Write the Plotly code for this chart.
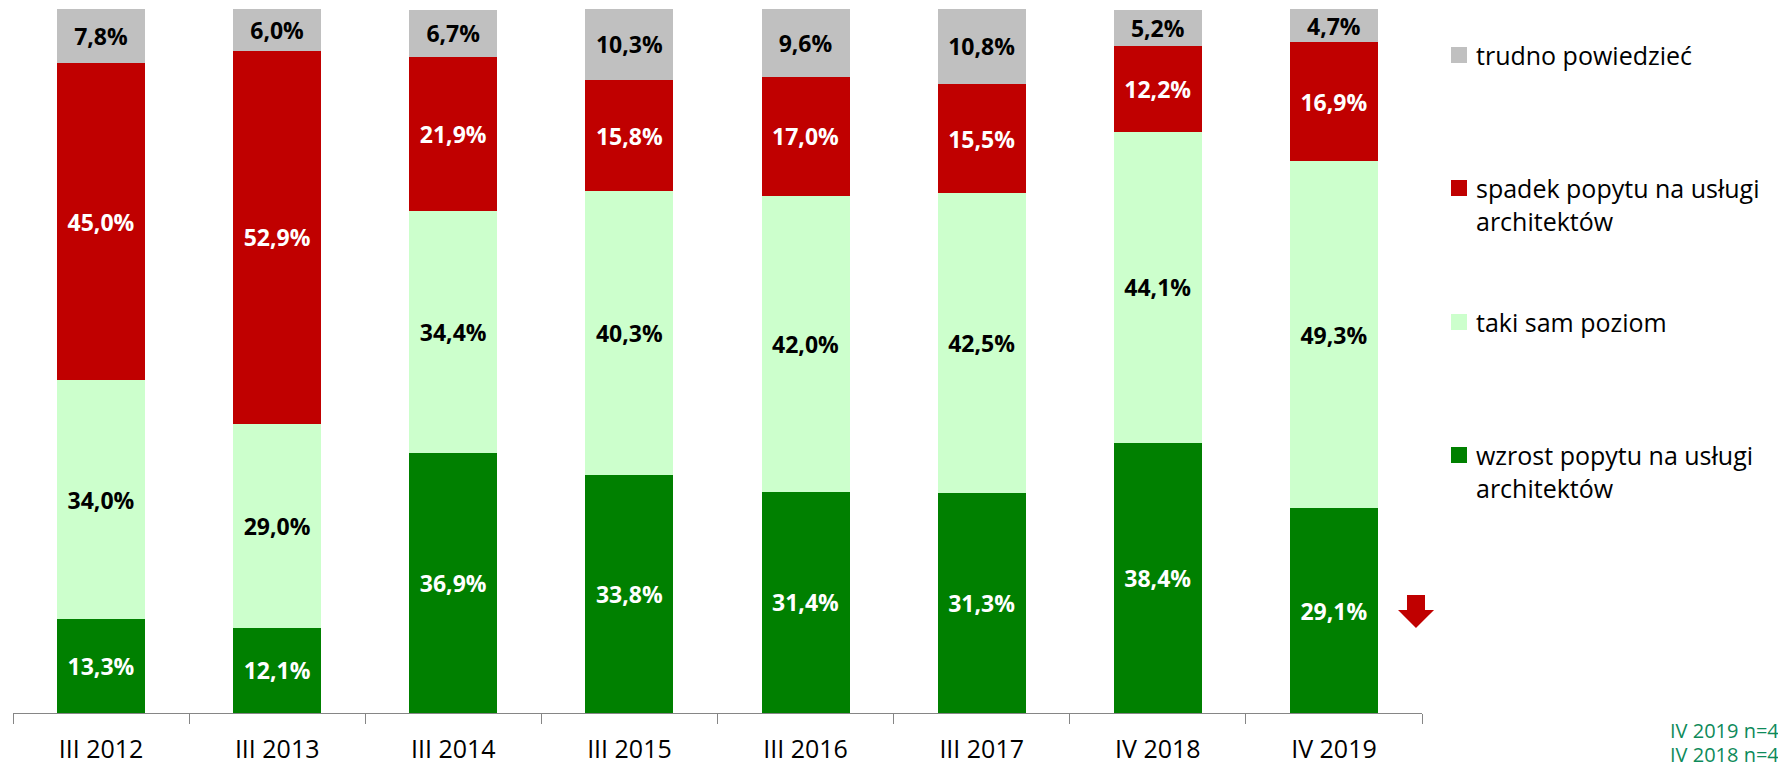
import plotly.graph_objects as go

categories = ["III 2012", "III 2013", "III 2014", "III 2015", "III 2016", "III 2017", "IV 2018", "IV 2019"]
wzrost = [13.3, 12.1, 36.9, 33.8, 31.4, 31.3, 38.4, 29.1]
taki = [34.0, 29.0, 34.4, 40.3, 42.0, 42.5, 44.1, 49.3]
spadek = [45.0, 52.9, 21.9, 15.8, 17.0, 15.5, 12.2, 16.9]
trudno = [7.8, 6.0, 6.7, 10.3, 9.6, 10.8, 5.2, 4.7]

series_names = [
    ["wzrost popytu na usługi", "architektów"],
    ["taki sam poziom"],
    ["spadek popytu na usługi", "architektów"],
    ["trudno powiedzieć"],
]
series_values = [wzrost, taki, spadek, trudno]
series_colors = ["#008000", "#CCFFCC", "#C00000", "#C0C0C0"]
label_colors = ["white", "black", "white", "black"]
sample_notes = ["IV 2019 n=4", "IV 2018 n=4"]

W, H = 1778, 765
L, R, T, B = 13, 356, 9, 52
PW, PH = W - L - R, H - T - B


def px_x(px):
    return (px - L) / PW


def px_y(py):
    return (H - B - py) / PH


FONT = "Open Sans"

fig = go.Figure()
for name, vals, col, lcol in zip(series_names, series_values, series_colors, label_colors):
    fig.add_trace(go.Bar(
        x=categories,
        y=vals,
        name=" ".join(name),
        marker=dict(color=col, line=dict(width=0)),
        text=[f"{v:.1f}%".replace(".", ",") for v in vals],
        textposition="inside",
        insidetextanchor="middle",
        textangle=0,
        textfont=dict(family=FONT, size=23, color=lcol, weight="bold"),
        showlegend=False,
    ))

# legend drawn manually (top to bottom: trudno, spadek, taki, wzrost)
legend_order = [3, 2, 1, 0]
legend_first_line_y = [55, 188, 322, 455]
line_gap = 33
shapes = []
annotations = []
for idx, ly in zip(legend_order, legend_first_line_y):
    shapes.append(dict(
        type="rect", xref="paper", yref="paper",
        x0=px_x(1451), x1=px_x(1467), y0=px_y(ly + 8), y1=px_y(ly - 8),
        fillcolor=series_colors[idx], line=dict(width=0),
    ))
    for k, line in enumerate(series_names[idx]):
        annotations.append(dict(
            xref="paper", yref="paper", x=px_x(1474), y=px_y(ly + k * line_gap),
            xanchor="left", yanchor="middle", showarrow=False, text=line,
            font=dict(family=FONT, size=25, color="black"),
        ))

# down arrow next to last bar
ax = [1407, 1425, 1425, 1434, 1416, 1398, 1407, 1407]
ay = [595, 595, 610, 610, 628, 610, 610, 595]
path = "M " + " L ".join(f"{px_x(a):.5f},{px_y(b):.5f}" for a, b in zip(ax, ay)) + " Z"
shapes.append(dict(type="path", xref="paper", yref="paper", path=path,
                   fillcolor="#C00000", line=dict(width=0)))

for k, note in enumerate(sample_notes):
    annotations.append(dict(
        xref="paper", yref="paper", x=px_x(1668), y=px_y(730 + k * 24),
        xanchor="left", yanchor="middle", showarrow=False, text=note,
        font=dict(family=FONT, size=20, color="#0E8A5A"),
    ))

fig.update_layout(
    width=W, height=H,
    margin=dict(l=L, r=R, t=T, b=B, pad=0, autoexpand=False),
    barmode="stack",
    bargap=0.5,
    plot_bgcolor="white",
    paper_bgcolor="white",
    uniformtext=dict(minsize=23, mode="show"),
    shapes=shapes,
    annotations=annotations,
    xaxis=dict(
        type="category",
        automargin=False,
        showline=True, linecolor="#868686", linewidth=1,
        ticks="outside", tickson="boundaries", ticklen=10, tickcolor="#868686",
        tickfont=dict(family=FONT, size=25, color="black"),
        ticklabelstandoff=14,
        showgrid=False, zeroline=False,
    ),
    yaxis=dict(range=[0, 100], visible=False, showgrid=False, zeroline=False),
)

fig.write_html("out.html", config={"displayModeBar": False},
               post_script="document.body.style.margin='0';")
